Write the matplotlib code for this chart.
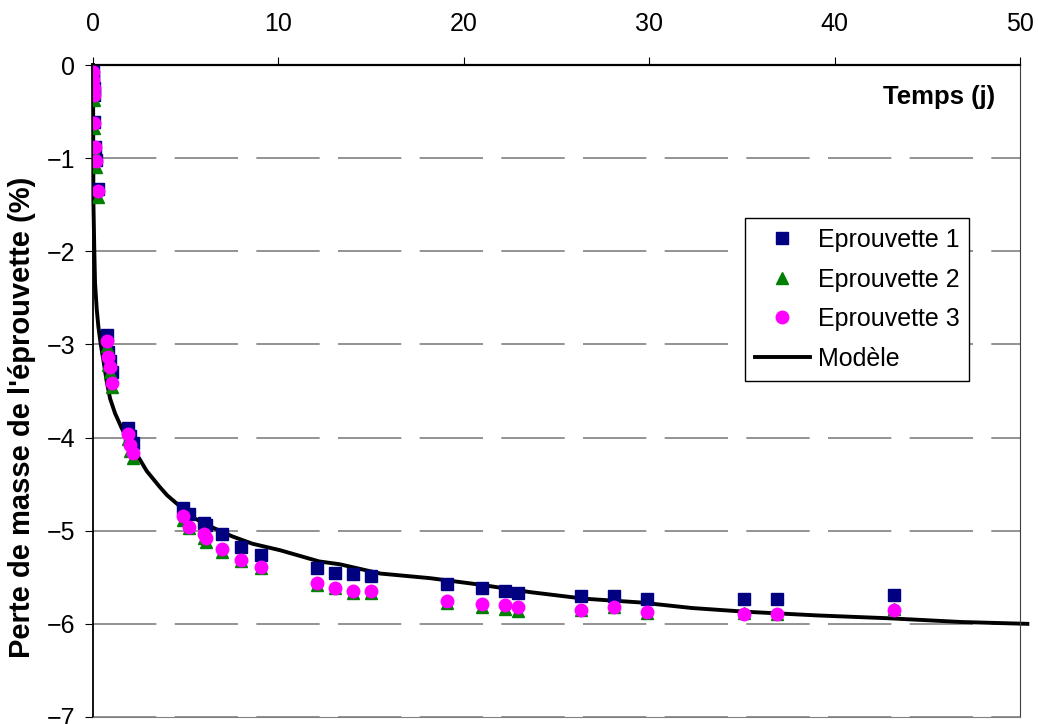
import numpy as np
import matplotlib
matplotlib.use("Agg")
import matplotlib.pyplot as plt

plt.rcParams['font.family'] = ['Liberation Sans', 'DejaVu Sans']

# temps (jours) des mesures
temps = [0.01, 0.02, 0.04, 0.06, 0.08, 0.13, 0.17, 0.25,
         0.75, 0.83, 0.92, 1.0,
         1.9, 2.0, 2.15,
         4.85, 5.2, 6.0, 6.1, 6.95, 8.0, 9.06,
         12.1, 13.05, 14.0, 15.0, 19.1, 21.0, 22.2, 22.9,
         26.3, 28.1, 29.9, 35.1, 36.9, 43.2]

eprouvette1 = [-0.08, -0.16, -0.25, -0.32, -0.61, -0.88, -1.02, -1.33,
               -2.90, -3.08, -3.18, -3.30,
               -3.90, -3.98, -4.06,
               -4.76, -4.82, -4.92, -4.94, -5.04, -5.17, -5.26,
               -5.40, -5.45, -5.47, -5.49, -5.57, -5.62, -5.65, -5.67,
               -5.70, -5.70, -5.73, -5.73, -5.73, -5.69]

eprouvette2 = [-0.12, -0.2, -0.3, -0.38, -0.68, -0.95, -1.1, -1.42,
               -3.02, -3.22, -3.30, -3.46,
               -4.02, -4.14, -4.22,
               -4.88, -4.97, -5.08, -5.12, -5.23, -5.33, -5.40,
               -5.58, -5.62, -5.67, -5.67, -5.78, -5.82, -5.84, -5.86,
               -5.85, -5.82, -5.88, -5.88, -5.89, -5.84]

eprouvette3 = [-0.08, -0.16, -0.25, -0.32, -0.62, -0.88, -1.03, -1.35,
               -2.96, -3.14, -3.24, -3.41,
               -3.96, -4.08, -4.17,
               -4.84, -4.96, -5.04, -5.08, -5.20, -5.31, -5.39,
               -5.56, -5.62, -5.65, -5.65, -5.76, -5.79, -5.80, -5.82,
               -5.85, -5.82, -5.87, -5.89, -5.89, -5.85]

# courbe du modele
modele_t = [0, 0.01, 0.02, 0.07, 0.11, 0.2, 0.29, 0.41, 0.56, 0.74, 0.92,
            1.19, 1.55, 1.82, 2.27, 2.9, 3.6, 4.0, 4.7, 5.4, 6.5, 7.5,
            8.6, 10.1, 12.2, 13.3, 15.5, 18.2, 20.9, 23.6, 26.5, 29.5,
            32.3, 35.2, 39.1, 42.9, 46.8, 50.4]
modele_y = [0, -0.6, -1.45, -1.99, -2.34, -2.62, -2.81, -2.99, -3.17, -3.40,
            -3.58, -3.74, -3.90, -4.00, -4.15, -4.36, -4.53, -4.62, -4.74,
            -4.86, -4.97, -5.06, -5.14, -5.21, -5.33, -5.36, -5.46, -5.51,
            -5.58, -5.66, -5.73, -5.77, -5.83, -5.87, -5.91, -5.94, -5.98,
            -6.0]

fig = plt.figure(figsize=(10.38, 7.24), dpi=100)
ax = fig.add_axes([0.0896, 0.0097, 0.893, 0.9005])

ax.plot(modele_t, modele_y, color='black', lw=2.8, label='Modèle',
        zorder=2, clip_on=False)
ax.plot(temps, eprouvette1, 's', color='#000080', ms=8.5, mec='#000080',
        label='Eprouvette 1', zorder=3)
ax.plot(temps, eprouvette2, '^', color='#008000', ms=9, mec='#008000',
        label='Eprouvette 2', zorder=4)
ax.plot(temps, eprouvette3, 'o', color='#FF00FF', ms=9, mec='#FF00FF',
        label='Eprouvette 3', zorder=5)

ax.set_xlim(0, 50)
ax.set_ylim(-7, 0)
ax.set_xticks(range(0, 51, 10))
ax.set_yticks(range(-7, 1))
ax.xaxis.tick_top()
ax.tick_params(axis='x', direction='out', length=6, pad=15, labelsize=18)
ax.tick_params(axis='y', direction='out', length=6, pad=7, labelsize=18)

ax.grid(axis='y', color='#808080', linestyle=(0, (38, 11)), lw=1.2)
ax.grid(axis='x', visible=False)

ax.spines['top'].set_linewidth(1.6)
ax.spines['left'].set_linewidth(1.3)
ax.spines['right'].set_color('#404040')
ax.spines['bottom'].set_color('#808080')

ax.text(0.973, 0.951, 'Temps (j)', transform=ax.transAxes, ha='right',
        va='center', fontsize=18.5, fontweight='bold')
fig.text(0.021, 1 - 417 / 724, "Perte de masse de l'éprouvette (%)",
         rotation=90, ha='center', va='center', fontsize=21,
         fontweight='bold')

h, l = ax.get_legend_handles_labels()
order = [1, 2, 3, 0]
leg = ax.legend([h[i] for i in order], [l[i] for i in order],
                loc='upper left', bbox_to_anchor=(0.703, 0.765),
                borderaxespad=0, fontsize=18, frameon=True, fancybox=False,
                edgecolor='black', framealpha=1, handlelength=2.2,
                handletextpad=0.32, labelspacing=0.62, borderpad=0.4)
leg.get_frame().set_linewidth(1.0)

fig.savefig('out.png', dpi=100)
